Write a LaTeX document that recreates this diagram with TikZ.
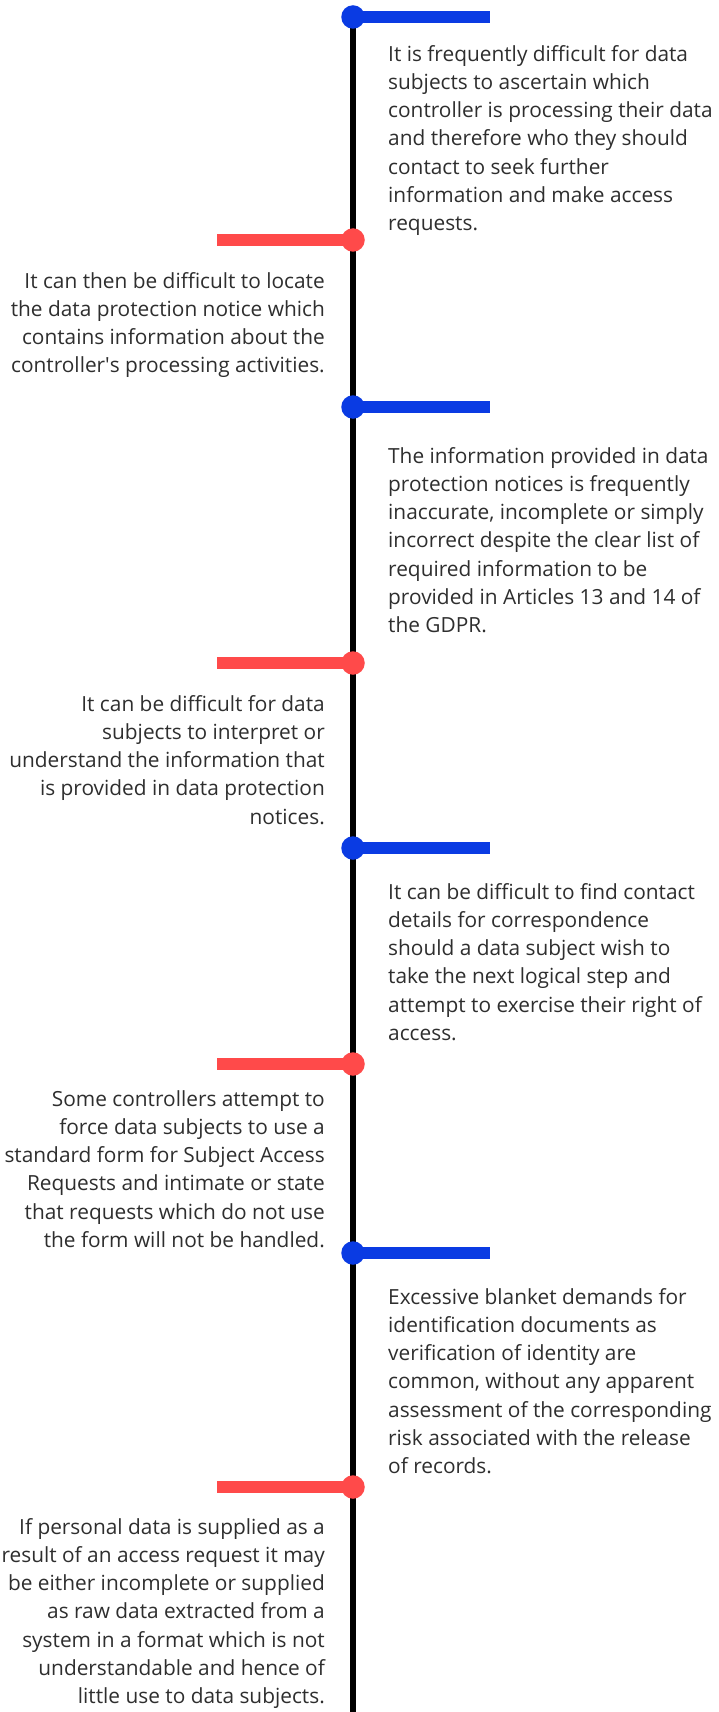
\documentclass[tikz,border=0pt]{standalone}
\usepackage{fontspec}
\setmainfont{Open Sans}
\usetikzlibrary{positioning}
\definecolor{tlblue}{HTML}{0A3BE3}
\definecolor{tlred}{HTML}{FF4A4A}
\definecolor{txtgray}{HTML}{2E2E2E}

\begin{document}
\begin{tikzpicture}[
  x=1pt,y=-1pt,
  font=\fontsize{20.85}{28.3}\selectfont,
  knob/.style={circle,inner sep=0pt,minimum size=23.5pt},
  spine/.style={line width=6pt,black},
  arm/.style={line width=11.5pt},
  noter/.style={inner sep=0pt,text=txtgray,align=left,anchor=north west},
  notel/.style={inner sep=0pt,text=txtgray,align=right,anchor=north east}
]
\useasboundingbox (0,0) rectangle (718,1712);
% timeline points and arm ends
\coordinate (p1) at (353,17);   \coordinate (e1) at (490,17);
\coordinate (p2) at (353,240);  \coordinate (e2) at (217,240);
\coordinate (p3) at (353,407);  \coordinate (e3) at (490,407);
\coordinate (p4) at (353,663);  \coordinate (e4) at (217,663);
\coordinate (p5) at (353,848);  \coordinate (e5) at (490,848);
\coordinate (p6) at (353,1064); \coordinate (e6) at (217,1064);
\coordinate (p7) at (353,1253); \coordinate (e7) at (490,1253);
\coordinate (p8) at (353,1487); \coordinate (e8) at (217,1487);
\coordinate (bot) at (353,1712);
\draw[spine] (p1)--(bot);
\draw[arm,tlblue] (p1)--(e1); \draw[arm,tlred] (p2)--(e2);
\draw[arm,tlblue] (p3)--(e3); \draw[arm,tlred] (p4)--(e4);
\draw[arm,tlblue] (p5)--(e5); \draw[arm,tlred] (p6)--(e6);
\draw[arm,tlblue] (p7)--(e7); \draw[arm,tlred] (p8)--(e8);
\node[knob,fill=tlblue] (d1) at (p1) {};
\node[knob,fill=tlred] (d2) at (p2) {};
\node[knob,fill=tlblue] (d3) at (p3) {};
\node[knob,fill=tlred] (d4) at (p4) {};
\node[knob,fill=tlblue] (d5) at (p5) {};
\node[knob,fill=tlred] (d6) at (p6) {};
\node[knob,fill=tlblue] (d7) at (p7) {};
\node[knob,fill=tlred] (d8) at (p8) {};
% notes
\node[noter] (t1) at (388,41) {\strut It is frequently difficult for data\\subjects to ascertain which\\controller is processing their data\\and therefore who they should\\contact to seek further\\information and make access\\requests.};
\node[notel] (t2) at (325,268) {\strut It can then be difficult to locate\\the data protection notice which\\contains information about the\\controller\textquotesingle s processing activities.};
\node[noter] (t3) at (388,443) {\strut The information provided in data\\protection notices is frequently\\inaccurate, incomplete or simply\\incorrect despite the clear list of\\required information to be\\provided in Articles 13 and 14 of\\the GDPR.};
\node[notel] (t4) at (325,691) {\strut It can be difficult for data\\subjects to interpret or\\understand the information that\\is provided in data protection\\notices.};
\node[noter] (t5) at (388,879) {\strut It can be difficult to find contact\\details for correspondence\\should a data subject wish to\\take the next logical step and\\attempt to exercise their right of\\access.};
\node[notel] (t6) at (325,1086) {\strut Some controllers attempt to\\force data subjects to use a\\standard form for Subject Access\\Requests and intimate or state\\that requests which do not use\\the form will not be handled.};
\node[noter] (t7) at (388,1284) {\strut Excessive blanket demands for\\identification documents as\\verification of identity are\\common, without any apparent\\assessment of the corresponding\\risk associated with the release\\of records.};
\node[notel] (t8) at (325,1514) {\strut If personal data is supplied as a\\result of an access request it may\\be either incomplete or supplied\\as raw data extracted from a\\system in a format which is not\\understandable and hence of\\little use to data subjects.};
\end{tikzpicture}
\end{document}
